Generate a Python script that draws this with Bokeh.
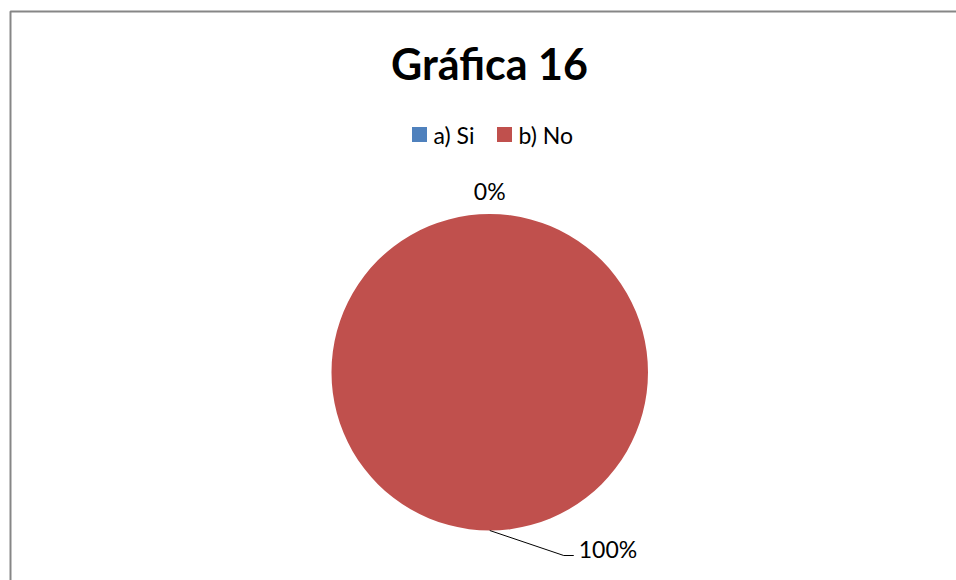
import math
from bokeh.plotting import figure
from bokeh.models import Range1d, ColumnDataSource
from bokeh.core.properties import value
from bokeh.embed import file_html
from bokeh.resources import INLINE

# ---- data ----
title_text = "Gráfica 16"
categories = ["a) Si", "b) No"]
values = [0, 100]
colors = ["#4F81BD", "#C0504D"]

W, H = 956, 580
FONT = "Lato"

p = figure(width=W, height=H, output_backend="svg", toolbar_location=None,
           x_range=Range1d(0, W), y_range=Range1d(0, H), min_border=0,
           background_fill_color="white", border_fill_color="white")
p.axis.visible = False
p.grid.visible = False
p.outline_line_color = None

def sy(y):
    return H - y

# chart border (extends beyond window at right/bottom)
p.quad(left=[10], right=[W + 20], top=[sy(11)], bottom=[sy(H + 20)],
       fill_color=None, line_color="#868686", line_width=2)

# title
p.text(x=[489], y=[sy(63)], text=[title_text], text_font=value(FONT),
       text_font_style="bold", text_font_size="43px", text_color="black",
       text_align="center", text_baseline="middle")

# legend
leg_sq_x = [412, 497]
leg_tx_x = [433, 518]
p.rect(x=[v + 7 for v in leg_sq_x], y=[sy(134)] * 2, width=15, height=15,
       fill_color=colors, line_color=None)
p.text(x=leg_tx_x, y=[sy(134)] * 2, text=categories, text_font=value(FONT),
       text_font_size="23px", text_color="black", text_align="left",
       text_baseline="middle")

# pie
cx, cy, r = 489.25, sy(371.75), 158.25
total = float(sum(values))
starts, ends, mids, wcols = [], [], [], []
a = math.pi / 2
for v, c in zip(values, colors):
    sweep = 2 * math.pi * v / total
    mids.append(a - sweep / 2)
    if v > 0:
        starts.append(a)
        ends.append(a - min(sweep, 2 * math.pi - 1e-4))
        wcols.append(c)
    a -= sweep

src = ColumnDataSource(dict(start=starts, end=ends, color=wcols))
p.wedge(x=cx, y=cy, radius=r, start_angle="start", end_angle="end",
        direction="clock", fill_color="color", line_color=None, source=src)

# data labels
pct = [f"{round(100 * v / total)}%" for v in values]
m0 = mids[0]
p.text(x=[cx + (r + 23) * math.cos(m0)], y=[cy + (r + 23) * math.sin(m0)],
       text=[pct[0]], text_font=value(FONT), text_font_size="23px",
       text_color="black", text_align="center", text_baseline="middle")
m1 = mids[1]
ex, ey = cx + r * math.cos(m1), cy + r * math.sin(m1)
p.line(x=[ex, ex + 74, ex + 84], y=[ey, ey - 25, ey - 25],
       line_color="black", line_width=1)
p.text(x=[ex + 89], y=[ey - 18], text=[pct[1]], text_font=value(FONT),
       text_font_size="23px", text_color="black", text_align="left",
       text_baseline="middle")

open("out.html", "w").write(file_html(p, INLINE))
